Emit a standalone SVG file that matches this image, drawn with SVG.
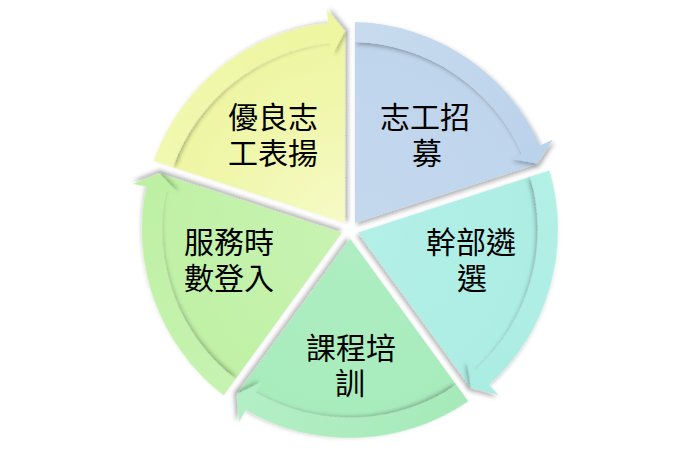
<svg xmlns="http://www.w3.org/2000/svg" width="700" height="457" viewBox="0 0 700 457">
  <defs>
    <filter id="sh" x="-20%" y="-20%" width="140%" height="140%">
      <feDropShadow dx="2" dy="2.5" stdDeviation="2" flood-color="#000" flood-opacity="0.3"/>
    </filter>
    <path id="body" d="M355,223.12 L355,42.07 A188,188 0 0 1 521.75,153.53 L537.65,163.77 Z"/>
    <path id="band" d="M355,22.06 A208,208 0 0 1 540.02,145.40 L552.81,139.70 L537.65,163.77 L509.87,158.82 L521.75,153.53 A188,188 0 0 0 355,42.07 Z"/>
    <linearGradient id="gBlue" gradientUnits="userSpaceOnUse" x1="355" y1="30" x2="520" y2="200">
      <stop offset="0" stop-color="#c8dbee"/><stop offset="1" stop-color="#b9d1ea"/>
    </linearGradient>
    <linearGradient id="gCyan" gradientUnits="userSpaceOnUse" x1="355" y1="30" x2="520" y2="200">
      <stop offset="0" stop-color="#b3f0e6"/><stop offset="1" stop-color="#aaece2"/>
    </linearGradient>
    <linearGradient id="gGreen" gradientUnits="userSpaceOnUse" x1="355" y1="30" x2="520" y2="200">
      <stop offset="0" stop-color="#a6eab9"/><stop offset="1" stop-color="#b4efc6"/>
    </linearGradient>
    <linearGradient id="gLGreen" gradientUnits="userSpaceOnUse" x1="355" y1="30" x2="520" y2="200">
      <stop offset="0" stop-color="#c6f3b0"/><stop offset="1" stop-color="#bdf0a2"/>
    </linearGradient>
    <linearGradient id="gYellow" gradientUnits="userSpaceOnUse" x1="355" y1="30" x2="520" y2="200">
      <stop offset="0" stop-color="#f1f8b0"/><stop offset="1" stop-color="#edf69e"/>
    </linearGradient>
    <radialGradient id="rBlue" gradientUnits="userSpaceOnUse" cx="355" cy="223" r="200">
      <stop offset="0" stop-color="#c3d8ed"/><stop offset="1" stop-color="#bfd5ec"/>
    </radialGradient>
    <radialGradient id="rCyan" gradientUnits="userSpaceOnUse" cx="355" cy="223" r="200">
      <stop offset="0" stop-color="#b3f0e7"/><stop offset="1" stop-color="#acede3"/>
    </radialGradient>
    <radialGradient id="rGreen" gradientUnits="userSpaceOnUse" cx="355" cy="223" r="200">
      <stop offset="0" stop-color="#aeeec2"/><stop offset="1" stop-color="#a7ebbb"/>
    </radialGradient>
    <radialGradient id="rLGreen" gradientUnits="userSpaceOnUse" cx="355" cy="223" r="200">
      <stop offset="0" stop-color="#c8f3b2"/><stop offset="1" stop-color="#bff1a4"/>
    </radialGradient>
    <radialGradient id="rYellow" gradientUnits="userSpaceOnUse" cx="355" cy="223" r="200">
      <stop offset="0" stop-color="#f6fac6"/><stop offset="0.6" stop-color="#f0f7ac"/><stop offset="1" stop-color="#edf6a0"/>
    </radialGradient>
  </defs>
  <style>
    .seg { filter: url(#sh); }
    .lbl { font-family: "DFKai-SB", "Noto Sans CJK TC", "Noto Sans CJK SC", sans-serif; font-size: 30px; fill: #000; text-anchor: middle; }
  </style>
  <rect width="700" height="457" fill="#fff"/>

  <g id="node-recruit">
    <use href="#body" class="seg" fill="url(#rBlue)"/>
    <text class="lbl"><tspan x="425" y="128">志工招</tspan><tspan x="427" y="164">募</tspan></text>
  </g>
  <g id="node-election">
    <use href="#body" class="seg" fill="url(#rCyan)" transform="rotate(72 350 230)"/>
    <text class="lbl"><tspan x="471" y="253">幹部遴</tspan><tspan x="472" y="289">選</tspan></text>
  </g>
  <g id="node-training">
    <use href="#body" class="seg" fill="url(#rGreen)" transform="rotate(144 350 230)"/>
    <text class="lbl"><tspan x="351" y="359">課程培</tspan><tspan x="350" y="394">訓</tspan></text>
  </g>
  <g id="node-hours">
    <use href="#body" class="seg" fill="url(#rLGreen)" transform="rotate(216 350 230)"/>
    <text class="lbl"><tspan x="229" y="253">服務時</tspan><tspan x="229" y="289">數登入</tspan></text>
  </g>
  <g id="node-award">
    <use href="#body" class="seg" fill="url(#rYellow)" transform="rotate(288 350 230)"/>
    <text class="lbl"><tspan x="273" y="128">優良志</tspan><tspan x="273" y="164">工表揚</tspan></text>
  </g>

  <g id="connectors">
    <use href="#band" class="seg" fill="url(#gBlue)"/>
    <use href="#band" class="seg" fill="url(#gCyan)" transform="rotate(72 350 230)"/>
    <use href="#band" class="seg" fill="url(#gGreen)" transform="rotate(144 350 230)"/>
    <use href="#band" class="seg" fill="url(#gLGreen)" transform="rotate(216 350 230)"/>
    <use href="#band" class="seg" fill="url(#gYellow)" transform="rotate(288 350 230)"/>
  </g>
</svg>
